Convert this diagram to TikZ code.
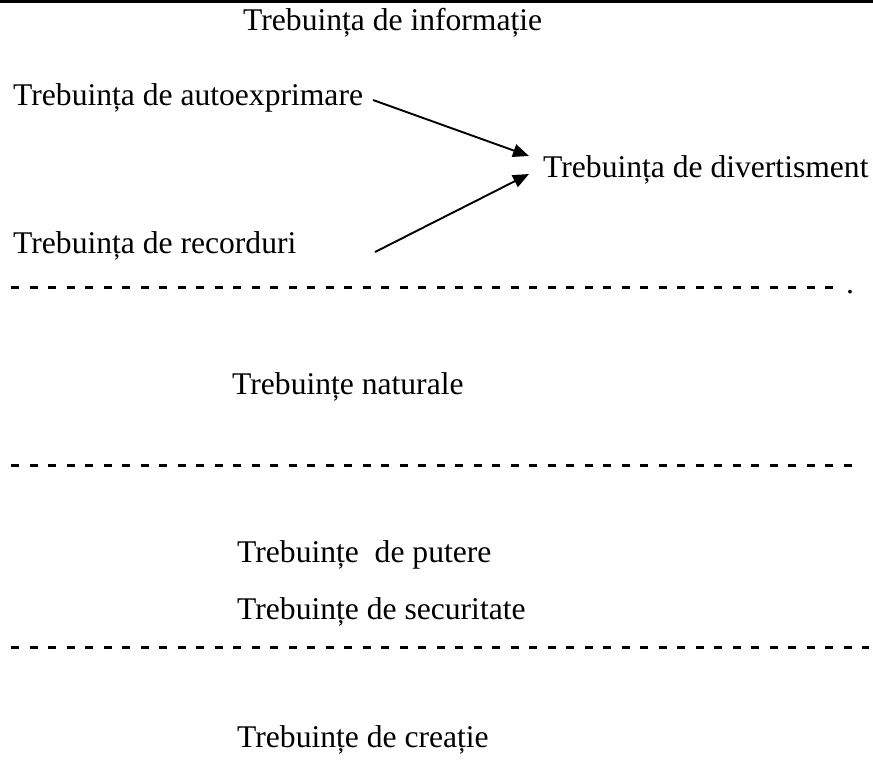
\documentclass[tikz,border=0pt]{standalone}
\usepackage{fontspec}
\setmainfont{Liberation Serif}
\usetikzlibrary{arrows.meta}
\begin{document}
\begin{tikzpicture}[x=1pt,y=-1pt,
  lbl/.style={anchor=base west,inner sep=0pt,font=\fontsize{31.6}{36}\selectfont},
  sep/.style={line width=3pt,dash pattern=on 8pt off 10.5pt},
  arr/.style={line width=1.9pt,-{Triangle[length=16pt,width=13pt]}}]
\useasboundingbox (0,0) rectangle (873,774);
\draw[line width=3pt] (0,1.5) -- (873,1.5);
\node[lbl] (info) at (243,30) {Trebuința de informație};
\node[lbl] (auto) at (13,105) {Trebuința de autoexprimare};
\node[lbl] (div) at (543,177) {Trebuința de divertisment};
\node[lbl] (rec) at (13,253) {Trebuința de recorduri};
\coordinate (a1) at (373,100);
\coordinate (a2) at (375,252);
\coordinate (t1) at (529,156);
\coordinate (t2) at (529,174);
\draw[arr] (a1) -- (t1);
\draw[arr] (a2) -- (t2);
\coordinate (d1s) at (11,287);
\coordinate (d1e) at (833,287);
\draw[sep] (d1s) -- (d1e);
\node[lbl] (dot) at (846,293) {.};
\node[lbl] (nat) at (232,394) {Trebuințe naturale};
\coordinate (d2s) at (11,465);
\coordinate (d2e) at (851.5,465);
\draw[sep] (d2s) -- (d2e);
\node[lbl] (put) at (237,562) {Trebuințe\ \ de putere};
\node[lbl] (sec) at (237,619) {Trebuințe de securitate};
\coordinate (d3s) at (11,647);
\coordinate (d3e) at (869,647);
\draw[sep] (d3s) -- (d3e);
\node[lbl] (cre) at (237,747) {Trebuințe de creație};
\end{tikzpicture}
\end{document}
